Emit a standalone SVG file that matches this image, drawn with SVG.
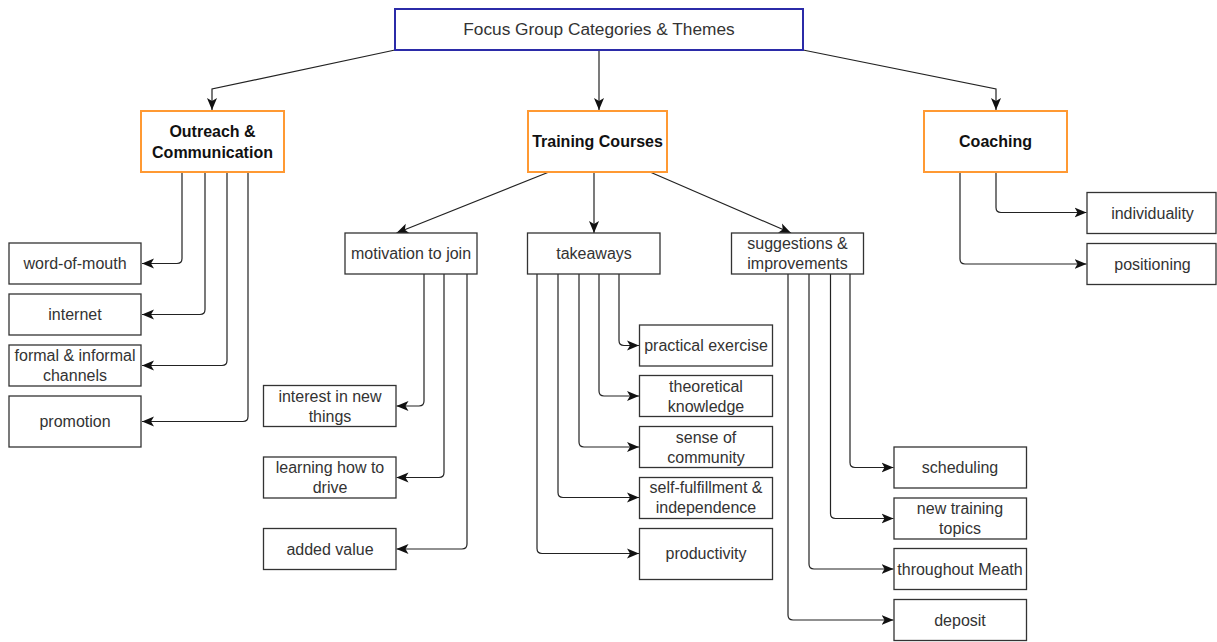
<svg xmlns="http://www.w3.org/2000/svg" width="1217" height="642" viewBox="0 0 1217 642">
<style>
.bg{fill:#ffffff}
.box{fill:#ffffff;stroke:#333333;stroke-width:1.3}
.root{fill:#ffffff;stroke:#2b2ba8;stroke-width:2}
.cat{fill:#ffffff;stroke:#ff9933;stroke-width:2}
.t{font-family:"Liberation Sans",Arial,sans-serif;font-size:16px;fill:#333333;text-anchor:middle}
.r{font-family:"Liberation Sans",Arial,sans-serif;font-size:17.3px;fill:#333333;text-anchor:middle}
.b{font-family:"Liberation Sans",Arial,sans-serif;font-size:16px;font-weight:bold;fill:#111111;text-anchor:middle}
.c{fill:none;stroke:#222222;stroke-width:1.2;marker-end:url(#arr)}
</style>
<defs>
<marker id="arr" markerUnits="userSpaceOnUse" markerWidth="12" markerHeight="12" viewBox="0 0 10 10" refX="10" refY="5" orient="auto">
<path d="M0,0.8 L10,5 L0,9.2 L2.5,5 Z" fill="#111111"/>
</marker>
</defs>
<rect class="bg" x="0" y="0" width="1217" height="642"/>

<g id="connectors">
<path class="c" d="M395,50 L212,89 L212,110"/>
<path class="c" d="M599,50 L599,110"/>
<path class="c" d="M803,50 L996,89 L996,110"/>
<path class="c" d="M182,172 V258.5 Q182,263.5 177,263.5 H142"/>
<path class="c" d="M205,172 V309.5 Q205,314.5 200,314.5 H142"/>
<path class="c" d="M227,172 V360.5 Q227,365.5 222,365.5 H142"/>
<path class="c" d="M248,172 V416.5 Q248,421.5 243,421.5 H142"/>
<path class="c" d="M549,172 L396.5,233"/>
<path class="c" d="M594,172 L594,233"/>
<path class="c" d="M650,172 L791,233"/>
<path class="c" d="M424,274 V401 Q424,406 419,406 H396.5"/>
<path class="c" d="M444,274 V472.5 Q444,477.5 439,477.5 H396.5"/>
<path class="c" d="M467,274 V544 Q467,549 462,549 H396.5"/>
<path class="c" d="M619,274 V340.5 Q619,345.5 624,345.5 H639"/>
<path class="c" d="M599,274 V391 Q599,396 604,396 H639"/>
<path class="c" d="M579,274 V442 Q579,447 584,447 H639"/>
<path class="c" d="M558,274 V492.5 Q558,497.5 563,497.5 H639"/>
<path class="c" d="M537,274 V548.5 Q537,553.5 542,553.5 H639"/>
<path class="c" d="M850,274 V462.5 Q850,467.5 855,467.5 H893.5"/>
<path class="c" d="M830.5,274 V513.5 Q830.5,518.5 835.5,518.5 H893.5"/>
<path class="c" d="M809,274 V564 Q809,569 814,569 H893.5"/>
<path class="c" d="M788,274 V615 Q788,620 793,620 H893.5"/>
<path class="c" d="M996,172 V207.5 Q996,212.5 1001,212.5 H1086.5"/>
<path class="c" d="M960,172 V259 Q960,264 965,264 H1086.5"/>
</g>

<g id="root"><rect class="root" x="395" y="9" width="408" height="41"/><text class="r" x="599" y="34.5">Focus Group Categories &amp; Themes</text></g>

<g id="outreach"><rect class="cat" x="141" y="111" width="143" height="61"/><text class="b" x="212.5" y="137">Outreach &amp;</text><text class="b" x="212.5" y="157.5">Communication</text></g>
<g id="training"><rect class="cat" x="528" y="111" width="139" height="61"/><text class="b" x="597.5" y="147">Training Courses</text></g>
<g id="coaching"><rect class="cat" x="924" y="111" width="143" height="61"/><text class="b" x="995.5" y="147">Coaching</text></g>

<g id="word-of-mouth"><rect class="box" x="9" y="243" width="132" height="41"/><text class="t" x="75" y="269">word-of-mouth</text></g>
<g id="internet"><rect class="box" x="9" y="294" width="132" height="41"/><text class="t" x="75" y="320">internet</text></g>
<g id="formal"><rect class="box" x="9" y="345" width="132" height="41"/><text class="t" x="75" y="361">formal &amp; informal</text><text class="t" x="75" y="381">channels</text></g>
<g id="promotion"><rect class="box" x="9" y="396" width="132" height="51"/><text class="t" x="75" y="427">promotion</text></g>

<g id="motivation"><rect class="box" x="345" y="233" width="132" height="41"/><text class="t" x="411" y="259">motivation to join</text></g>
<g id="takeaways"><rect class="box" x="527.5" y="233" width="132.5" height="41"/><text class="t" x="594" y="259">takeaways</text></g>
<g id="suggestions"><rect class="box" x="731.5" y="233" width="132" height="41"/><text class="t" x="797.5" y="249">suggestions &amp;</text><text class="t" x="797.5" y="269">improvements</text></g>

<g id="interest"><rect class="box" x="263.5" y="385.5" width="132.5" height="41"/><text class="t" x="330" y="401.5">interest in new</text><text class="t" x="330" y="421.5">things</text></g>
<g id="learning"><rect class="box" x="263.5" y="457" width="132.5" height="41"/><text class="t" x="330" y="473">learning how to</text><text class="t" x="330" y="493">drive</text></g>
<g id="added-value"><rect class="box" x="263.5" y="528.5" width="132.5" height="41"/><text class="t" x="330" y="554.5">added value</text></g>

<g id="practical"><rect class="box" x="639.5" y="325" width="133" height="41"/><text class="t" x="706" y="351">practical exercise</text></g>
<g id="theoretical"><rect class="box" x="639.5" y="375.5" width="133" height="41"/><text class="t" x="706" y="391.5">theoretical</text><text class="t" x="706" y="411.5">knowledge</text></g>
<g id="community"><rect class="box" x="639.5" y="426.5" width="133" height="41"/><text class="t" x="706" y="442.5">sense of</text><text class="t" x="706" y="462.5">community</text></g>
<g id="self-fulfillment"><rect class="box" x="639.5" y="477.5" width="133" height="41"/><text class="t" x="706" y="493">self-fulfillment &amp;</text><text class="t" x="706" y="513">independence</text></g>
<g id="productivity"><rect class="box" x="639.5" y="528.5" width="133" height="51"/><text class="t" x="706" y="559">productivity</text></g>

<g id="scheduling"><rect class="box" x="894" y="447" width="132.5" height="41"/><text class="t" x="960" y="473">scheduling</text></g>
<g id="new-topics"><rect class="box" x="894" y="498" width="132.5" height="41"/><text class="t" x="960" y="514">new training</text><text class="t" x="960" y="534">topics</text></g>
<g id="meath"><rect class="box" x="894" y="548.5" width="132.5" height="41"/><text class="t" x="960" y="574.5">throughout Meath</text></g>
<g id="deposit"><rect class="box" x="894" y="599.5" width="132.5" height="41"/><text class="t" x="960" y="625.5">deposit</text></g>

<g id="individuality"><rect class="box" x="1087" y="192.5" width="129" height="41"/><text class="t" x="1152.5" y="218.5">individuality</text></g>
<g id="positioning"><rect class="box" x="1087" y="243.5" width="129" height="41"/><text class="t" x="1152.5" y="269.5">positioning</text></g>
</svg>
